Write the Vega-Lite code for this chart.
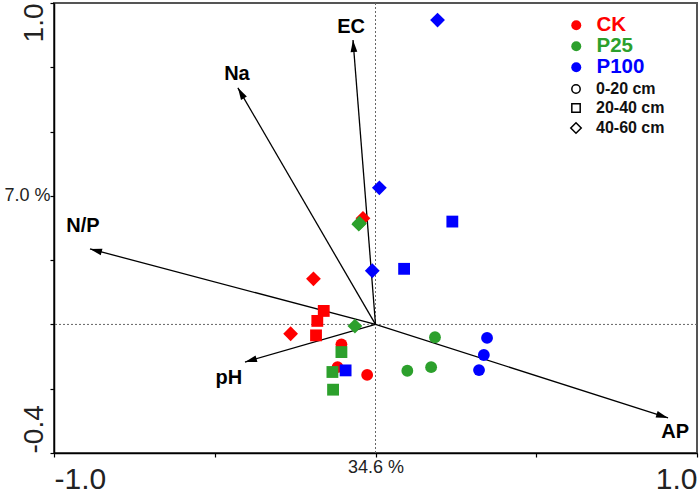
{
  "$schema": "https://vega.github.io/schema/vega-lite/v6.json",
  "width": 643,
  "height": 450,
  "autosize": {"type": "none"},
  "padding": {"left": 54, "top": 3, "right": 3, "bottom": 44},
  "background": "white",
  "datasets": {
    "samples": [
      {"treatment": "CK", "depth": "0-20 cm", "x": -0.106, "y": -0.062},
      {"treatment": "CK", "depth": "0-20 cm", "x": -0.118, "y": -0.133},
      {"treatment": "CK", "depth": "0-20 cm", "x": -0.026, "y": -0.157},
      {"treatment": "CK", "depth": "20-40 cm", "x": -0.161, "y": 0.042},
      {"treatment": "CK", "depth": "20-40 cm", "x": -0.181, "y": 0.011},
      {"treatment": "CK", "depth": "20-40 cm", "x": -0.185, "y": -0.034},
      {"treatment": "CK", "depth": "40-60 cm", "x": -0.193, "y": 0.142},
      {"treatment": "CK", "depth": "40-60 cm", "x": -0.264, "y": -0.029},
      {"treatment": "CK", "depth": "40-60 cm", "x": -0.039, "y": 0.330},
      {"treatment": "P25", "depth": "0-20 cm", "x": 0.185, "y": -0.040},
      {"treatment": "P25", "depth": "0-20 cm", "x": 0.173, "y": -0.133},
      {"treatment": "P25", "depth": "0-20 cm", "x": 0.099, "y": -0.144},
      {"treatment": "P25", "depth": "20-40 cm", "x": -0.106, "y": -0.086},
      {"treatment": "P25", "depth": "20-40 cm", "x": -0.134, "y": -0.148},
      {"treatment": "P25", "depth": "20-40 cm", "x": -0.132, "y": -0.203},
      {"treatment": "P25", "depth": "40-60 cm", "x": -0.052, "y": 0.312},
      {"treatment": "P25", "depth": "40-60 cm", "x": -0.050, "y": 0.315},
      {"treatment": "P25", "depth": "40-60 cm", "x": -0.064, "y": -0.005},
      {"treatment": "P100", "depth": "0-20 cm", "x": 0.347, "y": -0.042},
      {"treatment": "P100", "depth": "0-20 cm", "x": 0.337, "y": -0.095},
      {"treatment": "P100", "depth": "0-20 cm", "x": 0.322, "y": -0.142},
      {"treatment": "P100", "depth": "20-40 cm", "x": 0.239, "y": 0.320},
      {"treatment": "P100", "depth": "20-40 cm", "x": 0.089, "y": 0.173},
      {"treatment": "P100", "depth": "20-40 cm", "x": -0.093, "y": -0.143},
      {"treatment": "P100", "depth": "40-60 cm", "x": 0.193, "y": 0.947},
      {"treatment": "P100", "depth": "40-60 cm", "x": 0.012, "y": 0.425},
      {"treatment": "P100", "depth": "40-60 cm", "x": -0.010, "y": 0.167}
    ],
    "vectors": [
      {"var": "EC", "x": -0.070, "y": 0.885, "lx": -0.076, "ly": 0.925},
      {"var": "Na", "x": -0.428, "y": 0.736, "lx": -0.431, "ly": 0.779},
      {"var": "N/P", "x": -0.888, "y": 0.235, "lx": -0.910, "ly": 0.306},
      {"var": "pH", "x": -0.406, "y": -0.117, "lx": -0.456, "ly": -0.167},
      {"var": "AP", "x": 0.910, "y": -0.291, "lx": 0.932, "ly": -0.335}
    ],
    "vectorLines": [
      {"var": "EC", "end": 0, "x": 0, "y": 0},
      {"var": "EC", "end": 1, "x": -0.070, "y": 0.885},
      {"var": "Na", "end": 0, "x": 0, "y": 0},
      {"var": "Na", "end": 1, "x": -0.428, "y": 0.736},
      {"var": "N/P", "end": 0, "x": 0, "y": 0},
      {"var": "N/P", "end": 1, "x": -0.888, "y": 0.235},
      {"var": "pH", "end": 0, "x": 0, "y": 0},
      {"var": "pH", "end": 1, "x": -0.406, "y": -0.117},
      {"var": "AP", "end": 0, "x": 0, "y": 0},
      {"var": "AP", "end": 1, "x": 0.910, "y": -0.291}
    ]
  },
  "layer": [
    {
      "data": {"values": [{}]},
      "mark": {"type": "rule", "strokeDash": [2, 2], "color": "#666", "strokeWidth": 1},
      "encoding": {
        "x": {
          "datum": 0, "type": "quantitative",
          "scale": {"domain": [-1, 1], "nice": false, "zero": false},
          "axis": {
            "title": null,
            "values": [-1, -0.5, 0, 0.5, 1],
            "labelExpr": "datum.value == 0 ? '34.6 %' : (datum.value == -1 ? '-1.0' : (datum.value == 1 ? '1.0' : ''))",
            "labelFontSize": {"condition": {"test": "datum.value == 0", "value": 18}, "value": 30},
            "labelPadding": {"condition": {"test": "datum.value == 0", "value": 1}, "value": 7},
            "labelFlush": true,
            "labelOverlap": false
          }
        }
      }
    },
    {
      "data": {"values": [{}]},
      "mark": {"type": "rule", "strokeDash": [2, 2], "color": "#666", "strokeWidth": 1},
      "encoding": {
        "y": {
          "datum": 0, "type": "quantitative",
          "scale": {"domain": [-0.4, 1], "nice": false, "zero": false},
          "axis": {
            "title": null,
            "values": [-0.4, -0.2, 0, 0.2, 0.4, 0.6, 0.8, 1],
            "labelExpr": "datum.value == 0.4 ? '7.0 %' : (datum.value == 1 ? '1.0' : (datum.value == -0.4 ? '-0.4' : ''))",
            "labelAngle": {"expr": "datum.value == 0.4 ? 0 : -90"},
            "labelFontSize": {"condition": {"test": "datum.value == 0.4", "value": 18}, "value": 28},
            "labelAlign": {"condition": {"test": "datum.value >= 0.39", "value": "right"}, "value": "left"},
            "labelBaseline": {"condition": {"test": "datum.value == 0.4", "value": "middle"}, "value": "alphabetic"},
            "labelPadding": {"condition": {"test": "datum.value == 0.4", "value": 0}, "value": 8},
            "labelFlush": false,
            "labelOverlap": false
          }
        }
      }
    },
    {
      "data": {"name": "vectorLines"},
      "mark": {"type": "line", "color": "#000", "strokeWidth": 1.3},
      "encoding": {
        "x": {"field": "x", "type": "quantitative", "scale": {"domain": [-1, 1], "nice": false, "zero": false}},
        "y": {"field": "y", "type": "quantitative", "scale": {"domain": [-0.4, 1], "nice": false, "zero": false}},
        "detail": {"field": "var", "type": "nominal"},
        "order": {"field": "end", "type": "quantitative"}
      }
    },
    {
      "data": {"name": "vectors"},
      "transform": [{"calculate": "atan2(datum.x, datum.y) * 180 / PI", "as": "angle"}],
      "mark": {"type": "point", "filled": true, "shape": "M0,0 L0.45,1.6 L-0.45,1.6 Z", "size": 225, "color": "#000", "opacity": 1, "strokeWidth": 0},
      "encoding": {
        "x": {"field": "x", "type": "quantitative", "scale": {"domain": [-1, 1], "nice": false, "zero": false}},
        "y": {"field": "y", "type": "quantitative", "scale": {"domain": [-0.4, 1], "nice": false, "zero": false}},
        "angle": {"field": "angle", "type": "quantitative", "scale": null}
      }
    },
    {
      "data": {"name": "vectors"},
      "mark": {"type": "text", "font": "Liberation Sans", "fontWeight": "bold", "fontSize": 20, "color": "#000", "align": "center", "baseline": "middle"},
      "encoding": {
        "x": {"field": "lx", "type": "quantitative", "scale": {"domain": [-1, 1], "nice": false, "zero": false}},
        "y": {"field": "ly", "type": "quantitative", "scale": {"domain": [-0.4, 1], "nice": false, "zero": false}},
        "text": {"field": "var"}
      }
    },
    {
      "data": {"name": "samples"},
      "mark": {"type": "point", "filled": true, "size": 140, "opacity": 1, "strokeWidth": 0},
      "encoding": {
        "x": {"field": "x", "type": "quantitative", "scale": {"domain": [-1, 1], "nice": false, "zero": false}},
        "y": {"field": "y", "type": "quantitative", "scale": {"domain": [-0.4, 1], "nice": false, "zero": false}},
        "color": {
          "field": "treatment", "type": "nominal",
          "scale": {"domain": ["CK", "P25", "P100"], "range": ["#ff0000", "#2ca02c", "#0000ff"]},
          "legend": {
            "orient": "none", "legendX": 512, "legendY": 12, "title": null,
            "symbolType": "circle", "symbolSize": 100, "symbolOpacity": 1, "symbolStrokeWidth": 0,
            "labelFont": "Liberation Sans", "labelFontSize": 20.5, "labelFontWeight": "bold",
            "labelColor": {"expr": "datum.label == 'CK' ? '#ff0000' : (datum.label == 'P25' ? '#2ca02c' : '#0000ff')"},
            "labelOffset": 10, "rowPadding": 0, "padding": 0
          }
        },
        "shape": {
          "field": "depth", "type": "nominal",
          "scale": {"domain": ["0-20 cm", "20-40 cm", "40-60 cm"], "range": ["circle", "square", "M-1.25,0L0,-1.25L1.25,0L0,1.25Z"]},
          "legend": {
            "orient": "none", "legendX": 514, "legendY": 78, "title": null,
            "symbolSize": 70, "symbolFillColor": "white", "symbolStrokeColor": "black", "symbolStrokeWidth": 1.5, "symbolOpacity": 1,
            "labelFont": "Liberation Sans", "labelFontSize": 16, "labelFontWeight": "bold", "labelColor": "#111",
            "labelExpr": "datum.label == '0-20 cm' ? '\u00a0\u00a0' + datum.label : datum.label",
            "labelOffset": 12, "rowPadding": 3, "padding": 0
          }
        }
      }
    }
  ],
  "config": {
    "view": {"stroke": "#555", "strokeWidth": 2},
    "font": "Liberation Sans",
    "axis": {
      "grid": false,
      "domainColor": "#000",
      "domainWidth": 1.5,
      "tickColor": "#000",
      "tickSize": 4,
      "tickWidth": 1.2,
      "labelColor": "#222",
      "labelFont": "Liberation Sans",
      "labelFontWeight": "normal"
    }
  }
}
